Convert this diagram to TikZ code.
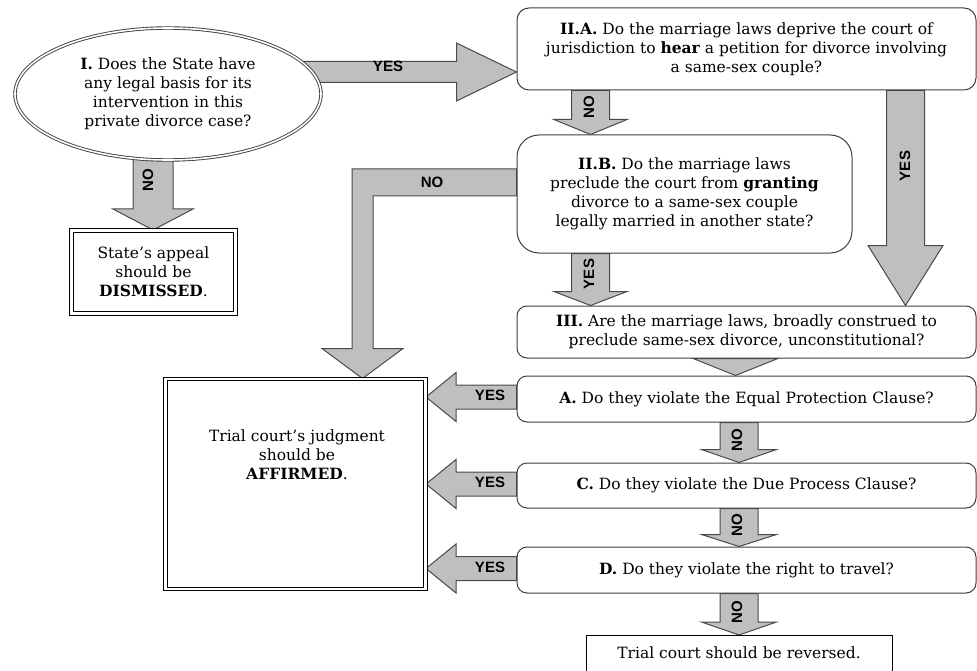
\documentclass[tikz,border=0pt]{standalone}
\usepackage{fontspec}
\setmainfont{DejaVu Serif}
\newfontfamily\lblfont{Liberation Sans}
\usetikzlibrary{shapes.geometric,calc}
\definecolor{arrowgray}{HTML}{BFBFBF}
\definecolor{linegray}{HTML}{4A4A4A}
\definecolor{boxline}{HTML}{3F3F3F}
\newcommand\qfont{\fontsize{15.5}{19}\selectfont}
\pgfdeclarelayer{bg}
\pgfsetlayers{bg,main}
\tikzset{
  blk/.style={fill=arrowgray, draw=linegray, line width=1pt, line join=miter},
  rbox/.style={draw=boxline, line width=1pt, rounded corners=10pt, fill=white, inner sep=0pt, align=center, font=\qfont},
  dbox/.style={draw=black, double=white, double distance=2.5pt, line width=1pt, inner sep=0pt, align=center, font=\qfont, fill=white},
  lbl/.style={font=\lblfont\bfseries\fontsize{15}{15}\selectfont, text=black, inner sep=0pt},
}
% down block arrow: #1 start (x,y), #2 tip (y), #3 shaft half, #4 head half, #5 head length
\newcommand\blkdown[5]{\draw[blk] let \p1=(#1), \p2=(#2) in
  (\x1-#3,\y1) -- (\x1+#3,\y1) -- (\x1+#3,\y2+#5) -- (\x1+#4,\y2+#5) -- (\x1,\y2)
  -- (\x1-#4,\y2+#5) -- (\x1-#3,\y2+#5) -- cycle;}
% left block arrow: #1 start (x,y), #2 tip (x)
\newcommand\blkleft[5]{\draw[blk] let \p1=(#1), \p2=(#2) in
  (\x1,\y1+#3) -- (\x2+#5,\y1+#3) -- (\x2+#5,\y1+#4) -- (\x2,\y1) -- (\x2+#5,\y1-#4)
  -- (\x2+#5,\y1-#3) -- (\x1,\y1-#3) -- cycle;}
% right block arrow
\newcommand\blkright[5]{\draw[blk] let \p1=(#1), \p2=(#2) in
  (\x1,\y1+#3) -- (\x2-#5,\y1+#3) -- (\x2-#5,\y1+#4) -- (\x2,\y1) -- (\x2-#5,\y1-#4)
  -- (\x2-#5,\y1-#3) -- (\x1,\y1-#3) -- cycle;}
\begin{document}
\begin{tikzpicture}[x=1pt,y=-1pt]
\useasboundingbox (0,0) rectangle (977,671);

% nodes
\node[ellipse, draw=boxline, double=white, double distance=1.6pt, line width=0.9pt, fill=white,
      minimum width=306pt, minimum height=132pt, inner sep=0pt, align=center, font=\qfont] (E) at (168,94)
  {\textbf{I.} Does the State have\\any legal basis for its\\intervention in this\\private divorce case?};
\node[rbox, minimum width=459pt, minimum height=82pt, rounded corners=12pt] (IIA) at (746.5,49)
  {\textbf{II.A.} Do the marriage laws deprive the court of\\jurisdiction to \textbf{hear} a petition for divorce involving\\a same-sex couple?};
\node[rbox, minimum width=335pt, minimum height=118pt, rounded corners=22pt] (IIB) at (684.5,194)
  {\textbf{II.B.} Do the marriage laws\\preclude the court from \textbf{granting}\\divorce to a same-sex couple\\legally married in another state?};
\node[rbox, minimum width=459pt, minimum height=52pt] (III) at (746.5,332)
  {\textbf{III.} Are the marriage laws, broadly construed to\\preclude same-sex divorce, unconstitutional?};
\node[rbox, minimum width=459pt, minimum height=46pt] (A) at (746.5,399)
  {\textbf{A.} Do they violate the Equal Protection Clause?};
\node[rbox, minimum width=459pt, minimum height=45pt] (C) at (746.5,485.5)
  {\textbf{C.} Do they violate the Due Process Clause?};
\node[rbox, minimum width=459pt, minimum height=46pt] (D) at (746.5,570)
  {\textbf{D.} Do they violate the right to travel?};
\node[draw=black, line width=1pt, fill=white, anchor=north, minimum width=306pt, inner ysep=10pt,
      text height=13pt, text depth=30pt, font=\qfont] (REV) at (739,635)
  {Trial court should be reversed.};
\node[dbox, minimum width=164pt, minimum height=83pt] (DIS) at (153.5,272)
  {State’s appeal\\should be\\\textbf{DISMISSED}.};
\node[dbox, minimum width=260pt, minimum height=210pt] (AFF) at (295.5,484) {};
\node[align=center, font=\qfont, inner sep=0pt] (AFFt) at (297,455)
  {Trial court’s judgment\\should be\\\textbf{AFFIRMED}.};

% block arrows
\begin{pgfonlayer}{bg}
\fill[white] (0,0) rectangle (977,671);
\blkright{[xshift=-22pt,yshift=22pt]E.east}{IIA.west}{10.5pt}{29pt}{60pt}
\blkdown{[xshift=-15pt,yshift=10pt]E.south}{DIS.north}{20pt}{40pt}{21pt}
\blkdown{[xshift=74pt]IIA.south west}{IIB.north}{19pt}{36.5pt}{15pt}
\blkdown{[xshift=74pt]IIB.south west}{III.north}{19pt}{36.5pt}{14pt}
\blkdown{[xshift=389pt]IIA.south west}{III.north}{19pt}{37.5pt}{60pt}
\draw[blk] let \p1=(IIB.west), \p2=([xshift=67pt]AFF.north) in
  (\x1,\y1+25pt) -- (\x2-10.5pt,\y1+25pt) -- (\x2-10.5pt,\y2+30pt) -- (\x2-40.5pt,\y2+30pt)
  -- (\x2,\y2) -- (\x2+40.5pt,\y2+30pt) -- (\x2+10.5pt,\y2+30pt) -- (\x2+10.5pt,\y1-2pt)
  -- (\x1,\y1-2pt) -- cycle;
\draw[blk] let \p1=([xshift=-11pt]III.south), \p2=(A.north) in
  (\x1-42.5pt,\y1) -- (\x1+42.5pt,\y1) -- (\x1,\y2) -- cycle;
\blkdown{[xshift=-7.5pt]A.south}{C.north}{19pt}{37.5pt}{13pt}
\blkdown{[xshift=-7.5pt]C.south}{D.north}{19pt}{37.5pt}{12pt}
\blkdown{[xshift=-7.5pt]D.south}{REV.north}{19pt}{37.5pt}{13pt}
\blkleft{[yshift=2pt]A.west}{AFF.east}{12pt}{24.5pt}{30pt}
\blkleft{[yshift=1.5pt]C.west}{AFF.east}{12pt}{24.5pt}{30pt}
\blkleft{[yshift=1.5pt]D.west}{AFF.east}{12pt}{24.5pt}{30pt}
\end{pgfonlayer}

% labels
\node[lbl] (l1) at (388,66) {YES};
\node[lbl] (l2) at (432,182) {NO};
\node[lbl, rotate=90] (l3) at (148,180) {NO};
\node[lbl, rotate=90] (l4) at (589,107) {NO};
\node[lbl, rotate=90] (l5) at (905,166) {YES};
\node[lbl, rotate=90] (l6) at (589,274) {YES};
\node[lbl, rotate=90] (l7) at (737,440) {NO};
\node[lbl, rotate=90] (l8) at (737,525) {NO};
\node[lbl, rotate=90] (l9) at (737,612) {NO};
\node[lbl] (l10) at (490,395) {YES};
\node[lbl] (l11) at (490,482) {YES};
\node[lbl] (l12) at (490,567) {YES};
\end{tikzpicture}
\end{document}
